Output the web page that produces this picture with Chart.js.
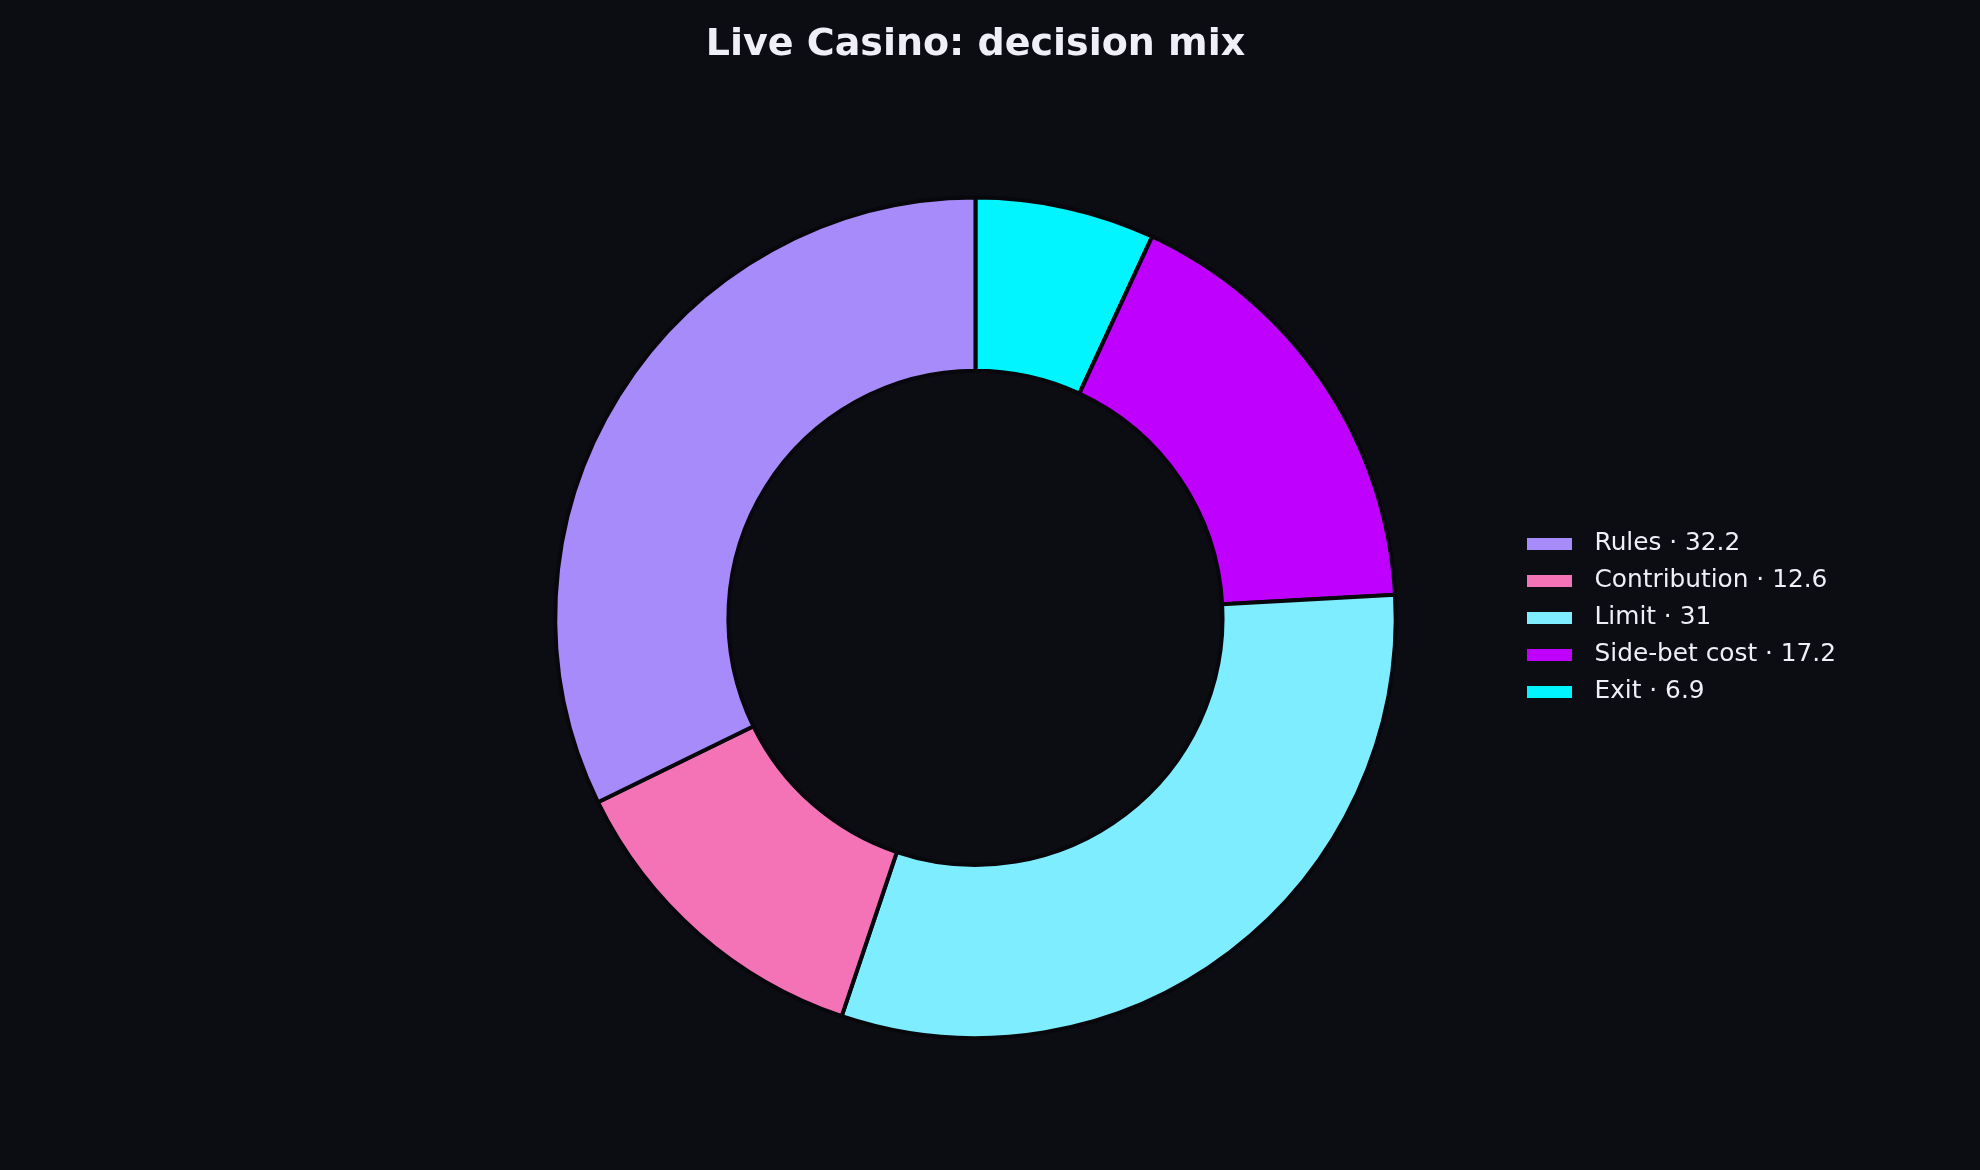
<!DOCTYPE html>
<html>
<head>
<meta charset="utf-8">
<script src="https://cdn.jsdelivr.net/npm/chart.js@4/dist/chart.umd.min.js"></script>
<style>
  html, body { margin: 0; padding: 0; background: #0c0c13; }
  #wrap { width: 1980px; height: 1170px; }
</style>
</head>
<body>
<div id="wrap"><canvas id="c" width="1980" height="1170"></canvas></div>
<script>
// ---- data ----
const categories = ["Rules", "Contribution", "Limit", "Side-bet cost", "Exit"];
const values = [32.2, 12.6, 31, 17.2, 6.9];
const colors = ["#a78bfa", "#f472b6", "#7eedff", "#bf00ff", "#00f5ff"];
const titleText = "Live Casino: decision mix";

// reference draws counter-clockwise from the top; Chart.js draws clockwise,
// so feed the library the reversed order
const dLabels = categories.slice().reverse();
const dValues = values.slice().reverse();
const dColors = colors.slice().reverse();

const BG = "#0c0c13";
const TEXT = "#f0eff7";

function swatch(color) {
  const c = document.createElement("canvas");
  c.width = 45; c.height = 12;
  const g = c.getContext("2d");
  g.fillStyle = color;
  g.fillRect(0, 0, 45, 12);
  return c;
}

const bgPlugin = {
  id: "bg",
  beforeDraw(chart) {
    const ctx = chart.ctx;
    ctx.save();
    ctx.fillStyle = BG;
    ctx.fillRect(0, 0, chart.width, chart.height);
    ctx.restore();
  }
};

new Chart(document.getElementById("c"), {
  type: "doughnut",
  data: {
    labels: dLabels,
    datasets: [{
      data: dValues,
      backgroundColor: dColors,
      borderColor: "#08080c",
      borderWidth: 4,
      hoverOffset: 0
    }]
  },
  options: {
    responsive: false,
    animation: false,
    devicePixelRatio: 1,
    cutout: "58.8%",
    layout: { padding: { top: 0, bottom: 130, left: 447, right: 134 } },
    plugins: {
      tooltip: { enabled: false },
      title: {
        display: true,
        fullSize: false,
        text: titleText,
        color: TEXT,
        font: { family: "DejaVu Sans", size: 38, weight: "bold" },
        padding: { top: 22, bottom: 128 }
      },
      legend: {
        display: true,
        fullSize: false,
        position: "right",
        align: "center",
        labels: {
          color: TEXT,
          font: { family: "DejaVu Sans", size: 24.8 },
          usePointStyle: true,
          pointStyleWidth: 66,
          padding: 12.2,
          generateLabels(chart) {
            const base = Chart.overrides.doughnut.plugins.legend.labels.generateLabels(chart);
            return base.map(item => {
              const i = item.index;
              item.text = dLabels[i] + " \u00b7 " + dValues[i];
              item.pointStyle = swatch(dColors[i]);
              item.fontColor = TEXT;
              return item;
            });
          },
          sort(a, b) { return b.index - a.index; }
        }
      }
    }
  },
  plugins: [bgPlugin]
});
</script>
</body>
</html>
